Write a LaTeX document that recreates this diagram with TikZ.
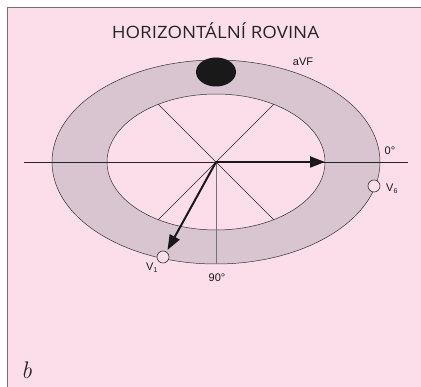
\documentclass[tikz,border=0pt]{standalone}
\usepackage{fontspec}
\newfontfamily\arialfont{Liberation Sans}
\newfontfamily\titlefont{Open Sans}
\usetikzlibrary{arrows.meta,shapes.geometric}
\definecolor{bgpink}{RGB}{251,222,233}
\definecolor{ringcol}{RGB}{216,197,207}
\definecolor{framecol}{RGB}{120,110,115}
\tikzset{
  lbl/.style={inner sep=0pt, font=\arialfont\fontsize{11}{12}\selectfont, text=black!90},
  vec/.style={line width=2pt, draw=black!90, -{Triangle[length=15pt,width=11pt]}},
  thin line/.style={line width=0.7pt, draw=black!85},
  electrode/.style={circle, draw=black!80, fill=bgpink, line width=0.6pt, minimum size=12pt, inner sep=0pt}
}
\begin{document}
\begin{tikzpicture}[x=1pt,y=-1pt]
\useasboundingbox (0,0) rectangle (421,387);
\fill[white] (0,0) rectangle (421,387);
\draw[draw=framecol, fill=bgpink, line width=1pt] (7,8) rectangle (423,389);
\coordinate (O) at (216,162);
% ring
\draw[fill=ringcol, line width=0.5pt, draw=black!80] (O) ellipse [x radius=164, y radius=102];
\draw[fill=bgpink, line width=0.5pt, draw=black!80] (O) ellipse [x radius=109, y radius=68];
% diagonal lines
\coordinate (d1) at (158.3,104.3);
\coordinate (d2) at (273.7,219.7);
\coordinate (d3) at (273.7,104.3);
\coordinate (d4) at (158.3,219.7);
\draw[thin line] (d1) -- (d2);
\draw[thin line] (d3) -- (d4);
\coordinate (bot) at (216,264);
\draw[line width=0.8pt, draw=black!55] (O) -- (bot);
% axis
\coordinate (axL) at (24,162);
\coordinate (axR) at (408,162);
\draw[line width=0.9pt, draw=black!85] (axL) -- (axR);
% aVF electrode
\node[ellipse, fill=black!90, minimum width=40pt, minimum height=29pt, inner sep=0pt] (avfE) at (216,72) {};
% electrodes
\node[electrode] (V1) at (163,257) {};
\node[electrode] (V6) at (374,186) {};
% vectors
\coordinate (tipR) at (325,162);
\coordinate (tipV1) at (167.5,250);
\draw[vec] (O) -- (tipR);
\draw[vec] (O) -- (tipV1);
% labels
\node[font=\titlefont\fontsize{17}{19}\selectfont, inner sep=0pt, text=black!85, xscale=1.1] (title) at (215.5,31) {HORIZONTÁLNÍ ROVINA};
\node[lbl] (aVF) at (303,62) {aVF};
\node[lbl] (deg0) at (390,151) {0°};
\node[lbl] (deg90) at (217,278) {90°};
\node[lbl, anchor=base west] (V6l) at (386,192) {V\textsubscript{\fontsize{7}{7}\selectfont 6}};
\node[lbl, anchor=base west] (V1l) at (146,271) {V\textsubscript{\fontsize{7}{7}\selectfont 1}};
\node[inner sep=0pt, font=\fontsize{24}{24}\selectfont, anchor=base west, text=black!85] (b) at (21,379) {\itshape b};
\end{tikzpicture}
\end{document}
